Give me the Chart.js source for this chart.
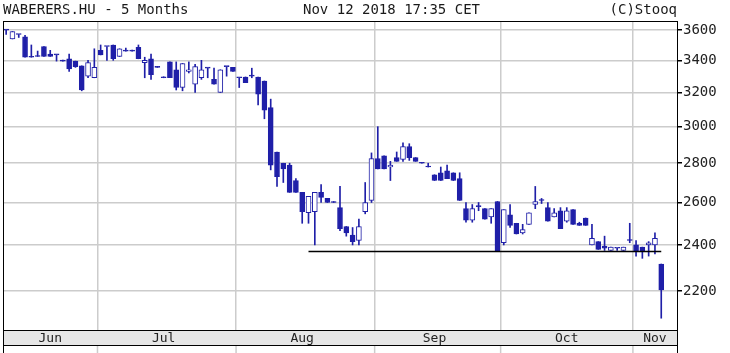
<!DOCTYPE html>
<html>
<head>
<meta charset="utf-8">
<script src="https://cdn.jsdelivr.net/npm/chart.js@4.4.1/dist/chart.umd.min.js"></script>
<style>
  html, body { margin: 0; padding: 0; background: #fff; }
  #wrap { position: relative; width: 730px; height: 353px; overflow: hidden; }
  #chart { position: absolute; left: 0; top: 0; }
  .hdr { position: absolute; top: 1px; font-family: "DejaVu Sans Mono", monospace; font-size: 14px;
         line-height: 16px; color: #1a1a1a; white-space: pre; }
</style>
</head>
<body>
<div id="wrap">
  <canvas id="chart" width="730" height="353"></canvas>
  <div class="hdr" style="left:3px">WABERERS.HU - 5 Months</div>
  <div class="hdr" style="left:303px">Nov 12 2018 17:35 CET</div>
  <div class="hdr" style="right:53px">(C)Stooq</div>
</div>
<script>
// trading days per month (2018)
const months = ['Jun', 'Jul', 'Aug', 'Sep', 'Oct', 'Nov'];
const monthNums = ['06', '07', '08', '09', '10', '11'];
const tradingDays = [
  [11, 12, 13, 14, 15, 18, 19, 20, 21, 22, 25, 26, 27, 28, 29],
  [2, 3, 4, 5, 6, 9, 10, 11, 12, 13, 16, 17, 18, 19, 20, 23, 24, 25, 26, 27, 30, 31],
  [1, 2, 3, 6, 7, 8, 9, 10, 13, 14, 15, 16, 17, 21, 22, 23, 24, 27, 28, 29, 30, 31],
  [3, 4, 5, 6, 7, 10, 11, 12, 13, 14, 17, 18, 19, 20, 21, 24, 25, 26, 27, 28],
  [1, 2, 3, 4, 5, 8, 9, 10, 11, 12, 15, 16, 17, 18, 19, 24, 25, 26, 29, 30, 31],
  [6, 7, 8, 9, 12]
];

const openP = [
  3600, 3540, 3570, 3555, 3425, 3430, 3490, 3440, 3435, 3395, 3410, 3395, 3365, 3300, 3290,
  3465, 3490, 3500, 3425, 3460, 3460, 3485, 3385, 3410, 3355, 3290, 3390, 3340, 3230, 3330, 3250, 3290, 3350, 3280, 3200, 3360, 3355,
  3290, 3295, 3300, 3295, 3270, 3110, 2860, 2800, 2790, 2710, 2650, 2550, 2555, 2650, 2620, 2600, 2575, 2485, 2445, 2420, 2555, 2610,
  2825, 2840, 2780, 2830, 2820, 2890, 2830, 2800, 2780, 2740, 2750, 2760, 2750, 2720, 2570, 2515, 2580, 2570, 2530, 2605,
  2410, 2540, 2500, 2455, 2495, 2590, 2610, 2575, 2530, 2560, 2510, 2565, 2500, 2525, 2400, 2415, 2395, 2375, 2385, 2375, 2420,
  2400, 2390, 2400, 2400, 2315
];
const highP = [
  3600, 3590, 3570, 3565, 3500, 3460, 3490, 3465, 3435, 3395, 3440, 3395, 3365, 3400, 3475,
  3500, 3490, 3500, 3475, 3480, 3460, 3500, 3420, 3440, 3355, 3290, 3390, 3390, 3380, 3390, 3375, 3400, 3350, 3350, 3340, 3360, 3355,
  3290, 3295, 3350, 3295, 3270, 3160, 2860, 2800, 2800, 2720, 2650, 2630, 2650, 2690, 2620, 2600, 2680, 2485, 2480, 2520, 2700, 2855,
  3000, 2840, 2810, 2860, 2910, 2905, 2830, 2800, 2800, 2740, 2780, 2790, 2750, 2750, 2600, 2590, 2600, 2570, 2570, 2605,
  2565, 2590, 2500, 2495, 2550, 2680, 2620, 2600, 2570, 2575, 2575, 2565, 2505, 2525, 2495, 2415, 2440, 2390, 2385, 2390, 2500,
  2420, 2390, 2415, 2455, 2315
];
const lowP = [
  3570, 3540, 3550, 3420, 3420, 3425, 3425, 3425, 3395, 3395, 3330, 3355, 3210, 3290, 3290,
  3435, 3400, 3400, 3425, 3460, 3460, 3410, 3290, 3280, 3355, 3290, 3290, 3215, 3210, 3320, 3200, 3280, 3290, 3250, 3200, 3300, 3330,
  3230, 3260, 3290, 3125, 3045, 2765, 2680, 2700, 2650, 2650, 2500, 2500, 2400, 2600, 2600, 2600, 2465, 2440, 2400, 2400, 2545, 2600,
  2770, 2770, 2710, 2810, 2810, 2815, 2810, 2800, 2780, 2710, 2710, 2720, 2710, 2610, 2505, 2505, 2560, 2520, 2500, 2370,
  2400, 2480, 2450, 2450, 2495, 2570, 2595, 2510, 2530, 2475, 2505, 2495, 2490, 2490, 2400, 2380, 2375, 2375, 2375, 2375, 2410,
  2350, 2340, 2350, 2360, 2090
];
const closeP = [
  3600, 3590, 3570, 3420, 3420, 3425, 3425, 3425, 3435, 3395, 3345, 3360, 3215, 3385, 3355,
  3435, 3490, 3410, 3475, 3460, 3460, 3410, 3400, 3310, 3355, 3290, 3290, 3230, 3380, 3340, 3360, 3340, 3350, 3250, 3340, 3360, 3330,
  3290, 3260, 3300, 3190, 3095, 2790, 2730, 2770, 2650, 2650, 2555, 2630, 2650, 2625, 2600, 2600, 2475, 2455, 2415, 2485, 2600, 2825,
  2770, 2770, 2790, 2810, 2890, 2830, 2810, 2800, 2780, 2710, 2710, 2720, 2710, 2610, 2515, 2570, 2580, 2520, 2570, 2370,
  2565, 2490, 2450, 2470, 2550, 2605, 2610, 2510, 2550, 2475, 2560, 2495, 2490, 2490, 2430, 2380, 2385, 2390, 2385, 2390, 2420,
  2370, 2370, 2410, 2430, 2205
];

const yTicks = [2200, 2400, 2600, 2800, 3000, 3200, 3400, 3600];
const supportLevel = 2370;
const supportFrom = '2018-08-16';
const supportTo = '2018-11-12';

const blue = '#1f1fa8';
const gridColor = '#cccccc';
const monoFont = '"DejaVu Sans Mono", monospace';

// labels, month start indices and label positions
const labels = [];
const monthStarts = [];
tradingDays.forEach((days, m) => {
  monthStarts.push(labels.length);
  days.forEach(d => labels.push('2018-' + monthNums[m] + '-' + String(d).padStart(2, '0')));
});
labels.push('', ' '); // empty room after the last session
const monthLabelAt = {};
monthStarts.forEach((s, m) => {
  const end = m + 1 < monthStarts.length ? monthStarts[m + 1] - 1 : labels.length - 1;
  monthLabelAt[Math.floor((s + end) / 2)] = months[m];
});

const framePlugin = {
  id: 'frame',
  beforeDraw(chart) {
    const { ctx, chartArea: a } = chart;
    ctx.save();
    ctx.fillStyle = '#e6e6e6';
    ctx.fillRect(a.left, a.bottom, a.right - a.left, 15);
    ctx.restore();
  },
  afterDraw(chart) {
    const { ctx, chartArea: a, scales } = chart;
    const xs = scales.x;
    const half = (xs.getPixelForTick(1) - xs.getPixelForTick(0)) / 2;
    const yb = a.bottom + 15;
    ctx.save();
    // lower panel separators
    ctx.strokeStyle = gridColor;
    ctx.lineWidth = 1.5;
    ctx.beginPath();
    monthStarts.slice(1).forEach(i => {
      const px = xs.getPixelForTick(i) - half;
      ctx.moveTo(px, yb);
      ctx.lineTo(px, chart.height);
    });
    ctx.stroke();
    ctx.strokeStyle = '#000';
    ctx.lineWidth = 1;
    ctx.strokeRect(Math.round(a.left) + 0.5, Math.round(a.top) + 0.5,
      Math.round(a.right - a.left), Math.round(a.bottom - a.top));
    ctx.beginPath();
    ctx.moveTo(a.left, Math.round(yb) + 0.5);
    ctx.lineTo(a.right, Math.round(yb) + 0.5);
    ctx.moveTo(Math.round(a.left) + 0.5, a.bottom);
    ctx.lineTo(Math.round(a.left) + 0.5, chart.height);
    ctx.moveTo(Math.round(a.right) + 0.5, a.bottom);
    ctx.lineTo(Math.round(a.right) + 0.5, chart.height);
    ctx.stroke();
    ctx.restore();
  }
};

const ctx = document.getElementById('chart').getContext('2d');
new Chart(ctx, {
  type: 'bar',
  data: {
    labels: labels,
    datasets: [
      {
        type: 'line',
        data: [{ x: supportFrom, y: supportLevel }, { x: supportTo, y: supportLevel }],
        borderColor: '#000',
        borderWidth: 1.5,
        pointRadius: 0,
        order: 0
      },
      {
        label: 'body',
        data: openP.map((o, i) => [o, closeP[i]]),
        backgroundColor: c => (closeP[c.dataIndex] > openP[c.dataIndex] ? '#ffffff' : blue),
        borderColor: blue,
        borderWidth: 1,
        borderSkipped: false,
        barThickness: 5,
        minBarLength: 1,
        grouped: false,
        order: 1
      },
      {
        label: 'wick',
        data: lowP.map((l, i) => [l, highP[i]]),
        backgroundColor: blue,
        borderWidth: 0,
        barThickness: 1,
        minBarLength: 1,
        grouped: false,
        order: 2
      }
    ]
  },
  options: {
    responsive: false,
    animation: false,
    layout: { padding: { top: 21, left: 3, right: 0, bottom: 8 } },
    plugins: { legend: { display: false }, tooltip: { enabled: false } },
    scales: {
      x: {
        type: 'category',
        offset: true,
        grid: {
          offset: true,
          drawTicks: false,
          lineWidth: 1.5,
          color: c => (monthStarts.indexOf(c.index) > 0 ? gridColor : 'rgba(0,0,0,0)')
        },
        border: { display: true, color: '#000' },
        ticks: {
          autoSkip: false,
          maxRotation: 0,
          padding: 1,
          color: '#222',
          font: { family: monoFont, size: 13 },
          callback: (v, i) => monthLabelAt[i] || ''
        },
        afterFit: s => { s.height = 15; }
      },
      y: {
        type: 'logarithmic',
        position: 'right',
        min: 2044,
        max: 3662,
        afterBuildTicks: s => { s.ticks = yTicks.map(v => ({ value: v })); },
        grid: { color: gridColor, lineWidth: 1.5, tickColor: '#000', tickLength: 5 },
        border: { display: true, color: '#000' },
        ticks: {
          padding: 1,
          color: '#222',
          font: { family: monoFont, size: 14 },
          callback: v => String(v)
        },
        afterFit: s => { s.width = 53; }
      }
    }
  },
  plugins: [framePlugin]
});
</script>
</body>
</html>
